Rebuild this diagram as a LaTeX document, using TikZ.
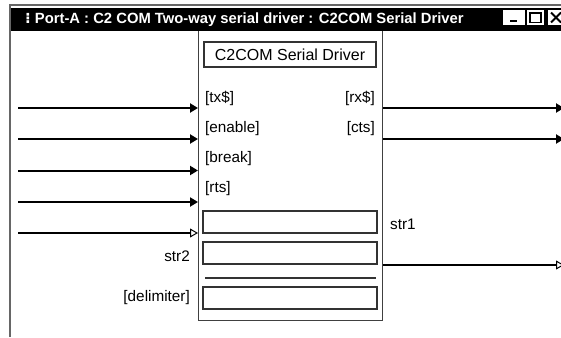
\documentclass[tikz,border=0pt]{standalone}
\usepackage{fontspec}
\setmainfont{Liberation Sans}
\newfontfamily\djv{DejaVu Sans}
\usetikzlibrary{arrows.meta}
\begin{document}
\begin{tikzpicture}[x=1pt,y=-1pt,
  lbl/.style={inner sep=0pt, font=\fontsize{15.3}{17}\selectfont},
  wire/.style={line width=2pt, -{Triangle[length=8pt,width=9pt]}},
  owire/.style={line width=2pt, -{Triangle[open,length=8pt,width=9pt,line width=1pt]}},
  ibox/.style={draw=black!80, line width=1.2pt, minimum width=174pt, minimum height=22pt, inner sep=0pt},
  btn/.style={fill=white, draw=none, minimum width=#1, minimum height=15pt, inner sep=0pt},
]
\useasboundingbox[fill=white] (0,0) rectangle (561,337);
% window frame
\draw[gray!80!black, line width=2pt] (10,337) -- (10,5) -- (561,5);
% driver block
\node[draw=black!75, line width=1.2pt, minimum width=184pt, minimum height=300pt, inner sep=0pt, anchor=south west] (drv) at (198,321) {};
\node[draw=black!80, line width=1.2pt, minimum width=172pt, minimum height=25pt, inner sep=0pt, font=\fontsize{16}{18}\selectfont] (name) at (290,54.5) {C2COM Serial Driver};
% ports
\node[lbl, anchor=west] (ptx) at (205,98) {[tx\$]};
\node[lbl, anchor=west] (pen) at (205,128.5) {[enable]};
\node[lbl, anchor=west] (pbr) at (205,159) {[break]};
\node[lbl, anchor=west] (prt) at (205,189) {[rts]};
\node[lbl, anchor=east] (prx) at (375,98) {[rx\$]};
\node[lbl, anchor=east] (pct) at (375,128.5) {[cts]};
% inner fields
\node[ibox] (f1) at (290,222) {};
\node[ibox] (f2) at (290,253) {};
\node[ibox] (f3) at (290,298) {};
\coordinate (sepl) at (205,278);
\coordinate (sepr) at (376,278);
\draw[black!80, line width=1.2pt] (sepl) -- (sepr);
% outside labels
\node[lbl, anchor=west] (s1) at (390,224) {str1};
\node[lbl, anchor=east] (s2) at (190,256) {str2};
\node[lbl, anchor=east] (dl) at (190,298) {[delimiter]};
% input wires
\coordinate (a1) at (18,108);
\coordinate (a2) at (18,139);
\coordinate (a3) at (18,170.5);
\coordinate (a4) at (18,202);
\coordinate (a5) at (18,233);
\draw[wire] (a1) -- (drv.west |- a1);
\draw[wire] (a2) -- (drv.west |- a2);
\draw[wire] (a3) -- (drv.west |- a3);
\draw[wire] (a4) -- (drv.west |- a4);
\draw[owire] (a5) -- (drv.west |- a5);
% output wires
\coordinate (b1) at (564,108);
\coordinate (b2) at (564,139);
\coordinate (b3) at (564,265);
\draw[wire] (drv.east |- b1) -- (b1);
\draw[wire] (drv.east |- b2) -- (b2);
\draw[owire] (drv.east |- b3) -- (b3);
% title bar
\fill[black] (11,8) rectangle (561,31);
\node[inner sep=0pt, anchor=west, text=white, font=\bfseries\fontsize{14.8}{16}\selectfont] (title) at (25,19.5) {{\djv ⁝} Port-A : C2 COM Two-way serial driver : C2COM Serial Driver};
% buttons
\node[btn=22pt] (bmin) at (514,17.5) {};
\fill[black] ([xshift=-4pt,yshift=-5pt]bmin.center) rectangle ([xshift=3pt,yshift=-2.5pt]bmin.center);
\node[btn=17pt] (bmax) at (535.5,17.5) {};
\draw[black, line width=1.2pt] ([xshift=-5.5pt,yshift=-5pt]bmax.center) rectangle ([xshift=5.5pt,yshift=5pt]bmax.center);
\fill[black] ([xshift=-5.5pt,yshift=3pt]bmax.center) rectangle ([xshift=5.5pt,yshift=5pt]bmax.center);
\node[btn=17pt, anchor=west] (bcls) at (548,17.5) {};
\draw[black, line width=2pt] ([xshift=3pt,yshift=-5pt]bcls.west) -- ([xshift=13pt,yshift=5pt]bcls.west);
\draw[black, line width=2pt] ([xshift=3pt,yshift=5pt]bcls.west) -- ([xshift=13pt,yshift=-5pt]bcls.west);
\end{tikzpicture}
\end{document}
